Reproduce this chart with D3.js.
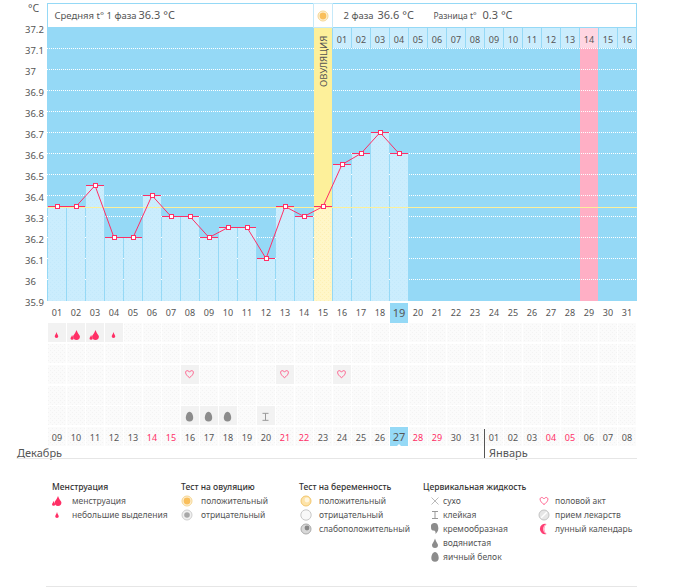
<!DOCTYPE html>
<html>
<head>
<meta charset="utf-8">
<script src="https://cdnjs.cloudflare.com/ajax/libs/d3/7.8.5/d3.min.js"></script>
<style>
html, body { margin: 0; padding: 0; background: #fff; }
svg { display: block; }
text { font-family: "Noto Sans", sans-serif; fill: #555; }
.axis path, .axis line { display: none; }
.crisp rect, .crisp line, rect.crisp, line.crisp { shape-rendering: crispEdges; }
</style>
</head>
<body>
<div id="chart"></div>
<script>
"use strict";

// temperature by day of the cycle (days 1-19)
var temps = [36.35, 36.35, 36.45, 36.2, 36.2, 36.4, 36.3, 36.3, 36.2, 36.25, 36.25, 36.1, 36.35, 36.3, 36.35, 36.55, 36.6, 36.7, 36.6];
var avgTemp = 36.345;
var yTicks = [37.2, 37.1, 37, 36.9, 36.8, 36.7, 36.6, 36.5, 36.4, 36.3, 36.2, 36.1, 36, 35.9];

var cycleDays = ["01","02","03","04","05","06","07","08","09","10","11","12","13","14","15","16","17","18","19","20","21","22","23","24","25","26","27","28","29","30","31"];
var calendarDays = ["09","10","11","12","13","14","15","16","17","18","19","20","21","22","23","24","25","26","27","28","29","30","31","01","02","03","04","05","06","07","08"];
var phaseDays = ["01","02","03","04","05","06","07","08","09","10","11","12","13","14","15","16"];
var weekendIdx = [5, 6, 12, 13, 19, 20, 26, 27];

var ovulationIdx = 14;
var phaseStartIdx = 15;
var pinkIdx = 28;
var todayIdx = 18;
var januaryIdx = 23;

// marks in the table below the chart: [row, day index, symbol]
var tableMarks = [
	[0, 0, "dropSmall"], [0, 1, "dropBig"], [0, 2, "dropBig"], [0, 3, "dropSmall"],
	[2, 7, "heart"], [2, 12, "heart"], [2, 15, "heart"],
	[4, 7, "egg"], [4, 8, "egg"], [4, 9, "egg"], [4, 11, "sticky"]
];

var legendGroups = ["Менструация", "Тест на овуляцию", "Тест на беременность", "Цервикальная жидкость"];
var legendItems = [
	[["dropBig", "менструация"], ["dropSmall", "небольшие выделения"]],
	[["ovuPos", "положительный"], ["ovuNeg", "отрицательный"]],
	[["pregPos", "положительный"], ["pregNeg", "отрицательный"], ["pregWeak", "слабоположительный"]],
	[["dry", "сухо"], ["sticky", "клейкая"], ["creamy", "кремообразная"], ["watery", "водянистая"], ["egg", "яичный белок"]],
	[["heart", "половой акт"], ["pill", "прием лекарств"], ["moon", "лунный календарь"]]
];

var width = 675;
var height = 587;
var plot = { left: 47, right: 637, top: 27.3, bottom: 300.3 };

var red = "#ff2f66";
var skyBlue = "#95d9f6";
var paleBlue = "#cbedfd";

var svg = d3.select("#chart").append("svg")
	.attr("width", width)
	.attr("height", height);

var xScale = d3.scaleBand().domain(d3.range(31)).range([48, 637]);
var yScale = d3.scaleLinear().domain([35.9, 37.2]).range([plot.bottom, plot.top]);
var rowScale = d3.scaleBand().domain(d3.range(6)).range([323, 448]);

function snap(v) { return Math.round(v) + 0.5; }

// dither used in the cells and bars
var defs = svg.append("defs");
function dither(id, base, dot) {
	var p = defs.append("pattern").attr("id", id)
		.attr("width", 4).attr("height", 4).attr("patternUnits", "userSpaceOnUse");
	p.append("rect").attr("width", 4).attr("height", 4).attr("fill", base);
	p.append("rect").attr("x", 0).attr("y", 0).attr("width", 1).attr("height", 1).attr("fill", dot);
	p.append("rect").attr("x", 2).attr("y", 2).attr("width", 1).attr("height", 1).attr("fill", dot);
}
dither("cellTex", "#fbfbfb", "#f3f3f3");
dither("barTex", paleBlue, "#c3e9fb");
dither("ovuBarTex", "#fff6c8", "#fdf0b4");

// plot background
svg.append("rect")
	.attr("class", "crisp")
	.attr("x", plot.left).attr("y", 27)
	.attr("width", plot.right - plot.left).attr("height", 274)
	.attr("fill", skyBlue);

// pink column
svg.append("rect")
	.attr("class", "crisp")
	.attr("x", xScale(pinkIdx)).attr("y", 27)
	.attr("width", xScale.bandwidth() - 1).attr("height", 274)
	.attr("fill", "#ffafc5");

// dotted grid
svg.append("g").selectAll("line")
	.data(yTicks.slice(1, -1))
	.enter()
	.append("line")
	.attr("x1", plot.left).attr("x2", plot.right)
	.attr("y1", function(d) { return snap(yScale(d)); })
	.attr("y2", function(d) { return snap(yScale(d)); })
	.attr("stroke", "#fff")
	.attr("stroke-dasharray", "1,1");

// the ovulation column hides the grid
svg.append("rect")
	.attr("class", "crisp")
	.attr("x", xScale(ovulationIdx)).attr("y", 27)
	.attr("width", xScale.bandwidth() - 1).attr("height", 274)
	.attr("fill", "#fdf09a");

// bars
svg.append("g").attr("class", "crisp").selectAll("rect")
	.data(temps)
	.enter()
	.append("rect")
	.attr("x", function(d, i) { return xScale(i); })
	.attr("y", function(d) { return Math.round(yScale(d)); })
	.attr("width", xScale.bandwidth() - 1)
	.attr("height", function(d) { return 301 - Math.round(yScale(d)); })
	.attr("fill", function(d, i) { return i === ovulationIdx ? "url(#ovuBarTex)" : "url(#barTex)"; });

// average line
svg.append("line")
	.attr("x1", plot.left).attr("x2", plot.right)
	.attr("y1", snap(yScale(avgTemp)))
	.attr("y2", snap(yScale(avgTemp)))
	.attr("stroke", "#fdf09a");

// value caps
svg.append("g").selectAll("line")
	.data(temps)
	.enter()
	.append("line")
	.attr("x1", function(d, i) { return xScale(i); })
	.attr("x2", function(d, i) { return xScale(i) + xScale.bandwidth() - 1; })
	.attr("y1", function(d) { return snap(yScale(d)); })
	.attr("y2", function(d) { return snap(yScale(d)); })
	.attr("stroke", red);

var tempLine = d3.line()
	.x(function(d, i) { return xScale(i) + xScale.bandwidth() / 2 - 0.5; })
	.y(function(d) { return snap(yScale(d)); });

svg.append("path")
	.attr("d", tempLine(temps))
	.attr("fill", "none")
	.attr("stroke", red);

svg.append("g").attr("class", "crisp").selectAll("rect")
	.data(temps)
	.enter()
	.append("rect")
	.attr("x", function(d, i) { return xScale(i) + 7.5; })
	.attr("y", function(d) { return snap(yScale(d)) - 2; })
	.attr("width", 4)
	.attr("height", 4)
	.attr("fill", "#fff")
	.attr("stroke", red);

// header box
svg.append("rect")
	.attr("class", "crisp")
	.attr("x", plot.left).attr("y", 3.5)
	.attr("width", plot.right - plot.left - 0.5).attr("height", 23.5)
	.attr("fill", "#fff")
	.attr("stroke", skyBlue);
svg.append("rect")
	.attr("class", "crisp")
	.attr("x", xScale(ovulationIdx) - 0.5).attr("y", 3.5)
	.attr("width", xScale.bandwidth()).attr("height", 23.5)
	.attr("fill", "#fff")
	.attr("stroke", "#c6e9f9");

function headerText(x, size, str) {
	svg.append("text").attr("x", x).attr("y", 19).attr("font-size", size).text(str);
}
headerText(54.5, 9.5, "Средняя t° 1 фаза");
headerText(138.5, 11, "36.3 °C");
headerText(343.5, 9.5, "2 фаза");
headerText(377.5, 11, "36.6 °C");
headerText(433.5, 8.5, "Разница t°");
headerText(482.5, 11, "0.3 °C");
svg.append("text").attr("x", 28).attr("y", 11.5).attr("font-size", 10.5).text("°C");

svg.append("text")
	.attr("transform", "translate(326.5,87) rotate(-90)")
	.attr("font-size", 9.5)
	.text("ОВУЛЯЦИЯ");

// second phase day strip
var phaseG = svg.append("g");
phaseG.selectAll("rect")
	.data(phaseDays)
	.enter()
	.append("rect")
	.attr("class", "crisp")
	.attr("x", function(d, i) { return xScale(phaseStartIdx + i); })
	.attr("y", 28)
	.attr("width", xScale.bandwidth() - 1)
	.attr("height", 20)
	.attr("fill", function(d, i) { return phaseStartIdx + i === pinkIdx ? "#ffd6e2" : paleBlue; });
phaseG.selectAll("text")
	.data(phaseDays)
	.enter()
	.append("text")
	.attr("x", function(d, i) { return xScale(phaseStartIdx + i) + xScale.bandwidth() / 2 - 0.5; })
	.attr("y", 43)
	.attr("text-anchor", "middle")
	.attr("font-size", 9)
	.text(function(d) { return d; });

// y axis, labels are left aligned
var yAxis = d3.axisLeft(yScale)
	.tickValues(yTicks)
	.tickSize(0)
	.tickFormat(function(d) { return String(d); });
svg.append("g")
	.attr("class", "axis")
	.attr("transform", "translate(" + plot.left + ",0)")
	.call(yAxis)
	.selectAll("text")
	.attr("font-size", 9.5)
	.attr("text-anchor", "start")
	.attr("x", -22)
	.attr("dy", 5.5);

// table cells
var cells = [];
d3.range(6).forEach(function(r) {
	d3.range(31).forEach(function(c) { cells.push([r, c]); });
});
svg.append("g").attr("class", "crisp").selectAll("rect")
	.data(cells)
	.enter()
	.append("rect")
	.attr("x", function(d) { return xScale(d[1]); })
	.attr("y", function(d) { return rowScale(d[0]); })
	.attr("width", xScale.bandwidth() - 1)
	.attr("height", 19)
	.attr("fill", "url(#cellTex)");

// used cells
svg.append("g").attr("class", "crisp").selectAll("rect")
	.data(tableMarks)
	.enter()
	.append("rect")
	.attr("x", function(d) { return xScale(d[1]); })
	.attr("y", function(d) { return rowScale(d[0]); })
	.attr("width", xScale.bandwidth() - 1)
	.attr("height", 19)
	.attr("fill", "#f2f2f2");

// today highlights
svg.append("rect")
	.attr("class", "crisp")
	.attr("x", xScale(todayIdx)).attr("y", 303)
	.attr("width", 18).attr("height", 20)
	.attr("fill", skyBlue);
svg.append("rect")
	.attr("class", "crisp")
	.attr("x", xScale(todayIdx)).attr("y", 427)
	.attr("width", 18).attr("height", 19)
	.attr("fill", skyBlue);
svg.append("path")
	.attr("d", "M" + (xScale(todayIdx) + 7) + ",446L" + (xScale(todayIdx) + 9) + ",444L" + (xScale(todayIdx) + 11) + ",446Z")
	.attr("fill", "#fff");

// symbols, drawn around 0,0
function drop(g, cx, cy, r, h, fill) {
	g.append("path")
		.attr("d", "M" + cx + "," + (cy - h) + "C" + (cx + r * 0.4) + "," + (cy - h * 0.4) + " " + (cx + r) + "," + (cy - r * 0.3) + " " + (cx + r) + "," + cy
			+ "A" + r + "," + r + " 0 0 1 " + (cx - r) + "," + cy
			+ "C" + (cx - r) + "," + (cy - r * 0.3) + " " + (cx - r * 0.4) + "," + (cy - h * 0.4) + " " + cx + "," + (cy - h) + "Z")
		.attr("fill", fill);
}

var symbols = {
	dropSmall: function(g) { drop(g, 0, 1.2, 1.8, 4.2, red); },
	dropBig: function(g) { drop(g, -3.4, 3.2, 1.6, 3.2, red); drop(g, 1, 1.6, 3.4, 6.5, red); },
	heart: function(g) {
		g.append("path")
			.attr("d", "M0,3.5C-5,0 -4.5,-3.5 -2.2,-3.5C-1,-3.5 -0.3,-2.5 0,-2C0.3,-2.5 1,-3.5 2.2,-3.5C4.5,-3.5 5,0 0,3.5Z")
			.attr("fill", "none").attr("stroke", "#ff5c8a").attr("stroke-width", 1);
	},
	egg: function(g) {
		g.append("path")
			.attr("d", "M0,-5C2.5,-5 3.7,-1 3.7,1A3.7,3.7 0 0 1 -3.7,1C-3.7,-1 -2.5,-5 0,-5Z")
			.attr("fill", "#8c8c8c");
	},
	sticky: function(g) {
		g.append("path")
			.attr("d", "M-3,-3.5H3M-3,3.5H3M0,-3.5V3.5")
			.attr("fill", "none").attr("stroke", "#999").attr("stroke-width", 1);
	},
	dry: function(g) {
		g.append("path")
			.attr("d", "M-3.5,-3.5L3.5,3.5M3.5,-3.5L-3.5,3.5")
			.attr("fill", "none").attr("stroke", "#aaa").attr("stroke-width", 0.8);
	},
	creamy: function(g) {
		g.append("path")
			.attr("d", "M-4,-2A3.5,3.5 0 0 1 3,-3C4,0 3,3 0.5,5C1,2 -0.5,1.5 -2,1.5C-3.5,1.5 -4,0 -4,-2Z")
			.attr("fill", "#8c8c8c");
	},
	watery: function(g) { drop(g, 0, 2, 3, 6.5, "#8c8c8c"); },
	ovuPos: function(g) {
		g.append("circle").attr("r", 5).attr("fill", "#fdf3dc").attr("stroke", "#f6d58f");
		g.append("circle").attr("r", 3.4).attr("fill", "#f9bf5c");
	},
	ovuNeg: function(g) {
		g.append("circle").attr("r", 5).attr("fill", "#f0f0f0").attr("stroke", "#cfcfcf");
		g.append("circle").attr("r", 2.8).attr("fill", "#a8a8a8");
	},
	pregPos: function(g) {
		g.append("circle").attr("r", 5).attr("fill", "#fde3a8").attr("stroke", "#f2c66e");
		g.append("circle").attr("cx", 1).attr("cy", -1).attr("r", 2.4).attr("fill", "#fff6e0");
	},
	pregNeg: function(g) {
		g.append("circle").attr("r", 5.2).attr("fill", "#f8f8f8").attr("stroke", "#c8c8c8");
	},
	pregWeak: function(g) {
		g.append("circle").attr("r", 5).attr("fill", "#d8d8d8").attr("stroke", "#aaa");
		g.append("circle").attr("cx", 1).attr("cy", -1).attr("r", 2.4).attr("fill", "#888");
	},
	pill: function(g) {
		g.append("circle").attr("r", 5).attr("fill", "#e6e6e6").attr("stroke", "#c4c4c4");
		g.append("path").attr("d", "M-2.8,2.8L2.8,-2.8").attr("stroke", "#fff").attr("stroke-width", 1.4);
	},
	moon: function(g) {
		g.append("path")
			.attr("d", "M2.5,-5A5.2,5.2 0 1 0 2.5,5A6.5,6.5 0 0 1 2.5,-5Z")
			.attr("fill", "#ff3d73");
		g.append("path")
			.attr("d", "M2.5,-5A6.5,6.5 0 0 0 2.5,5A5.4,5.4 0 0 1 2.5,-5Z")
			.attr("fill", "#ffd0dc");
	}
};

function drawSymbol(name, x, y) {
	var g = svg.append("g").attr("transform", "translate(" + x + "," + y + ")");
	symbols[name](g);
}

tableMarks.forEach(function(m) {
	var dy = m[2] === "heart" ? 9.5 : 10.5;
	if (m[2] === "dropBig" || m[2] === "dropSmall") dy = 12;
	drawSymbol(m[2], xScale(m[1]) + 8.5, rowScale(m[0]) + dy);
});

// sun mark in the header
drawSymbol("ovuPos", 323, 16);

// day axes
function dayAxis(labels, y) {
	var g = svg.append("g")
		.attr("class", "axis")
		.attr("transform", "translate(-0.5," + y + ")")
		.call(d3.axisBottom(xScale).tickSize(0).tickPadding(0).tickFormat(function(i) { return labels[i]; }));
	g.selectAll("text")
		.attr("font-size", 9)
		.attr("dy", 0)
		.attr("y", 0);
	return g;
}
var topDays = dayAxis(cycleDays, 316);
var bottomDays = dayAxis(calendarDays, 441);
bottomDays.selectAll("text")
	.style("fill", function(i) { return weekendIdx.indexOf(i) >= 0 ? red : "#555"; });

// today digits are bigger
topDays.selectAll("text").filter(function(i) { return i === todayIdx; }).attr("font-size", 11).attr("y", 1);
bottomDays.selectAll("text").filter(function(i) { return i === todayIdx; }).attr("font-size", 11).attr("y", -0.5);

// months
svg.append("line")
	.attr("x1", xScale(januaryIdx) - 0.5).attr("x2", xScale(januaryIdx) - 0.5)
	.attr("y1", 429).attr("y2", 458)
	.attr("stroke", "#555");
svg.append("text").attr("x", 17).attr("y", 457).attr("font-size", 11).text("Декабрь");
svg.append("text").attr("x", 489).attr("y", 457).attr("font-size", 11).text("Январь");
svg.append("line")
	.attr("x1", 17).attr("x2", 637)
	.attr("y1", 458.5).attr("y2", 458.5)
	.attr("stroke", "#e6e6e6");
svg.append("line")
	.attr("x1", 46).attr("x2", 637)
	.attr("y1", 586.5).attr("y2", 586.5)
	.attr("stroke", "#e6e6e6");

// legend
var legendTitleX = [52, 181, 299, 423];
var legendIconX = [57, 187, 306, 435, 544];
var legendTextX = [72, 201, 319, 443, 555];
var legendRow = d3.scalePoint().domain(d3.range(5)).range([504, 560]);

legendGroups.forEach(function(t, i) {
	svg.append("text")
		.attr("x", legendTitleX[i]).attr("y", 490)
		.attr("font-size", 8.5)
		.attr("font-weight", 500)
		.style("fill", "#333")
		.text(t);
});
legendItems.forEach(function(items, i) {
	items.forEach(function(it, r) {
		drawSymbol(it[0], legendIconX[i], legendRow(r) - 3);
		svg.append("text")
			.attr("x", legendTextX[i]).attr("y", legendRow(r))
			.attr("font-size", 8.5)
			.text(it[1]);
	});
});
</script>
</body>
</html>
